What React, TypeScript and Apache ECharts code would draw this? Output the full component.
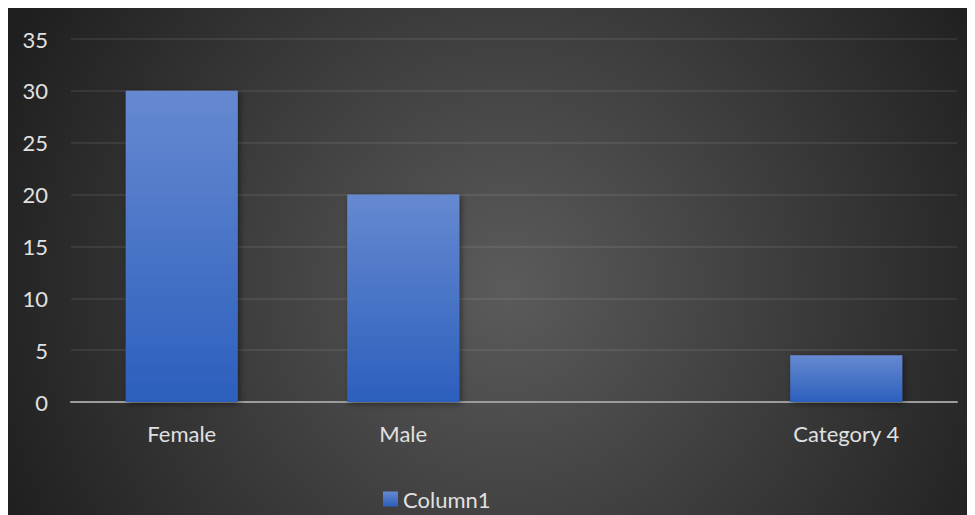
import React, { useEffect, useRef } from "react";
import * as echarts from "echarts";

// Column chart: head counts by category
const categories = ["Female", "Male", "", "Category 4"];
const column1Values = [30, 20, null, 4.5];
const seriesName = "Column1";
const yMax = 35;
const yStep = 5;

const FONT = "Lato, 'Open Sans', sans-serif";
const TEXT = "#e0e0e0";
const FONT_SIZE = 22;

export default function App() {
  const ref = useRef<HTMLDivElement>(null);

  useEffect(() => {
    if (!ref.current) return;
    const chart = echarts.init(ref.current, undefined, { renderer: "svg" });
    chart.setOption({
      animation: false,
      backgroundColor: {
        type: "radial",
        x: 500,
        y: 280,
        r: 560,
        global: true,
        colorStops: [
          { offset: 0, color: "#5b5b5b" },
          { offset: 1, color: "#1e1e1e" },
        ],
      },
      textStyle: { fontFamily: FONT },
      grid: { left: 63, right: 18, top: 31, bottom: 113, containLabel: false },
      legend: {
        show: true,
        left: 375,
        top: 480,
        padding: 0,
        itemWidth: 15,
        itemHeight: 15,
        icon: "rect",
        textStyle: { color: TEXT, fontSize: FONT_SIZE, fontFamily: FONT },
        data: [seriesName],
      },
      xAxis: {
        type: "category",
        data: categories,
        axisLine: { show: true, lineStyle: { color: "#9c9c9c", width: 2 } },
        axisTick: { show: false },
        axisLabel: { color: TEXT, fontSize: FONT_SIZE, fontFamily: FONT, margin: 20 },
        splitLine: { show: false },
      },
      yAxis: {
        type: "value",
        min: 0,
        max: yMax,
        interval: yStep,
        axisLine: { show: false },
        axisTick: { show: false },
        axisLabel: { color: TEXT, fontSize: FONT_SIZE, fontFamily: FONT, margin: 23 },
        splitLine: { show: true, lineStyle: { color: "rgba(255,255,255,0.1)", width: 1.5 } },
      },
      series: [
        {
          name: seriesName,
          type: "bar",
          data: column1Values,
          barWidth: "50.6%",
          itemStyle: {
            color: {
              type: "linear",
              x: 0,
              y: 0,
              x2: 0,
              y2: 1,
              colorStops: [
                { offset: 0, color: "#6689d1" },
                { offset: 1, color: "#2c5fbd" },
              ],
            },
            shadowBlur: 6,
            shadowColor: "rgba(0,0,0,0.45)",
            shadowOffsetX: 2,
            shadowOffsetY: 2,
          },
        },
      ],
    });
    return () => chart.dispose();
  }, []);

  return <div ref={ref} style={{ width: 967, height: 507 }} />;
}
